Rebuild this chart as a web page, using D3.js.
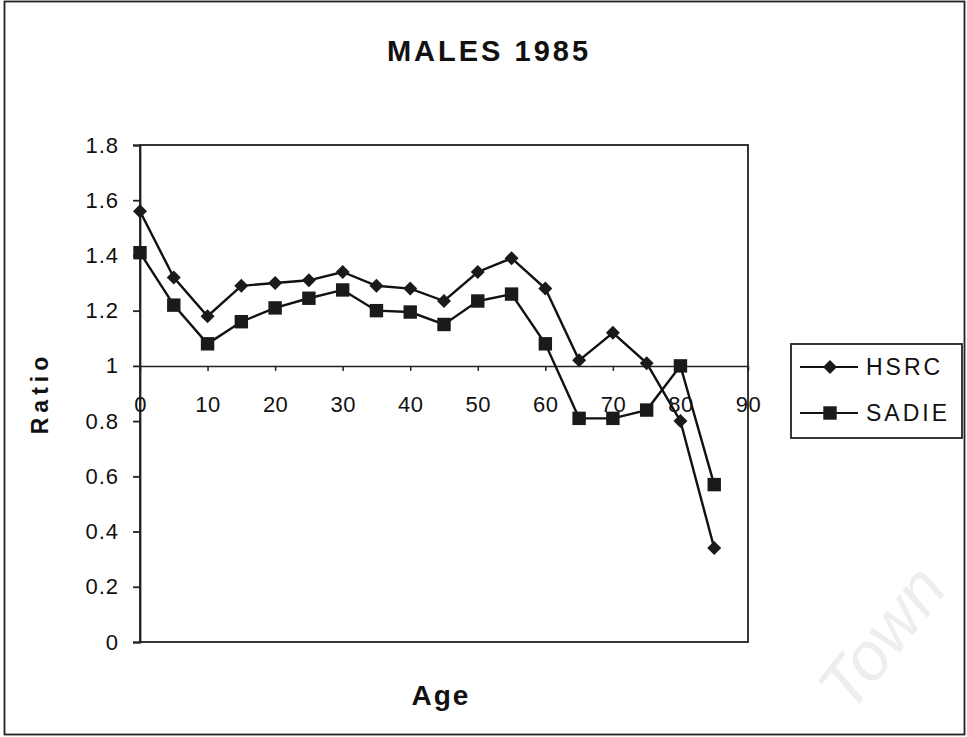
<html>
<head>
<style>
  body { margin: 0; background: #fff; }
  text { font-family: "Liberation Sans", Arial, sans-serif; fill: #111; }
  .line { fill: none; stroke: #111; stroke-width: 2.4; }
  .frame { fill: none; stroke: #222; stroke-width: 1.8; }
</style>
</head>
<body>
<svg id="container" width="967" height="737"></svg>
<script src="https://cdn.jsdelivr.net/npm/d3@7"></script>
<script>
// ages on the x axis
let ages = [0, 5, 10, 15, 20, 25, 30, 35, 40, 45, 50, 55, 60, 65, 70, 75, 80, 85]
// ratio series
let hsrc = [1.56, 1.32, 1.18, 1.29, 1.30, 1.31, 1.34, 1.29, 1.28, 1.235, 1.34, 1.39, 1.28, 1.02, 1.12, 1.01, 0.80, 0.34]
let sadie = [1.41, 1.22, 1.08, 1.16, 1.21, 1.245, 1.275, 1.20, 1.195, 1.15, 1.235, 1.26, 1.08, 0.81, 0.81, 0.84, 1.0, 0.57]
let yTicks = [0, 0.2, 0.4, 0.6, 0.8, 1, 1.2, 1.4, 1.6, 1.8]
let xTicks = [0, 10, 20, 30, 40, 50, 60, 70, 80, 90]
let seriesNames = ["HSRC", "SADIE"]

let svg = d3.select("#container")

// outer border of the scanned figure
svg.append("rect").attr("class", "frame")
    .attr("x", 4.5).attr("y", 1.5).attr("width", 960).attr("height", 733)

// faint watermark from the scan
svg.append("text")
    .attr("transform", "translate(900,652) rotate(-52)")
    .attr("text-anchor", "middle")
    .style("font-size", "68px").style("font-style", "italic")
    .style("fill", "#eeeeee")
    .text("Town")

let plotLeft = 140, plotRight = 748, plotTop = 145, plotBottom = 642

let xScale = d3.scaleLinear().domain([0, 90]).range([plotLeft, plotRight])
let yScale = d3.scaleLinear().domain([0, 1.8]).range([plotBottom, plotTop])

// plot area box
svg.append("rect").attr("class", "frame")
    .attr("x", plotLeft).attr("y", plotTop)
    .attr("width", plotRight - plotLeft).attr("height", plotBottom - plotTop)

// y axis
let yAxis = svg.append("g")
    .attr("transform", "translate(" + plotLeft + ",0)")
    .call(d3.axisLeft(yScale).tickValues(yTicks).tickSize(7).tickPadding(14)
        .tickFormat(d => String(+d.toFixed(1))))
yAxis.selectAll("text").style("font-size", "22px").style("letter-spacing", "1px")
yAxis.selectAll("line, path").attr("stroke", "#222").attr("stroke-width", 1.8)

// x axis crosses at ratio 1
let xAxis = svg.append("g")
    .attr("transform", "translate(0," + yScale(1) + ")")
    .call(d3.axisBottom(xScale).tickValues(xTicks).tickSize(5).tickPadding(26)
        .tickSizeOuter(0))
xAxis.selectAll("text").style("font-size", "22px").style("letter-spacing", "0.5px")
xAxis.selectAll("line, path").attr("stroke", "#222").attr("stroke-width", 1.5)

let valueLine = d3.line().x(d => xScale(d.age)).y(d => yScale(d.v))

let series = [hsrc, sadie].map((vals, i) => ({
  name: seriesNames[i],
  points: ages.map((a, j) => ({ age: a, v: vals[j] }))
}))

let diamond = d3.symbol().type(d3.symbolSquare).size(98)
let square = d3.symbol().type(d3.symbolSquare).size(180)

function marker(g, i, x, y) {
  if (i == 0) {
    g.append("path").attr("d", diamond())
        .attr("transform", "translate(" + x + "," + y + ") rotate(45)")
        .attr("fill", "#1a1a1a")
  } else {
    g.append("path").attr("d", square())
        .attr("transform", "translate(" + x + "," + y + ")")
        .attr("fill", "#1a1a1a")
  }
}

series.forEach((s, i) => {
  svg.append("path").datum(s.points).attr("class", "line").attr("d", valueLine)
  let g = svg.append("g")
  s.points.forEach(p => marker(g, i, xScale(p.age), yScale(p.v)))
})

// titles
svg.append("text").attr("x", 489).attr("y", 61).attr("text-anchor", "middle")
    .style("font-size", "29px").style("font-weight", "bold").style("letter-spacing", "3px")
    .text("MALES 1985")

svg.append("text").attr("x", 441).attr("y", 705).attr("text-anchor", "middle")
    .style("font-size", "28px").style("font-weight", "bold").style("letter-spacing", "2px")
    .text("Age")

svg.append("text").attr("transform", "translate(48,393) rotate(-90)")
    .attr("text-anchor", "middle")
    .style("font-size", "23px").style("font-weight", "bold").style("letter-spacing", "5px")
    .text("Ratio")

// legend
let legend = svg.append("g")
legend.append("rect").attr("class", "frame")
    .attr("x", 791).attr("y", 344).attr("width", 171).attr("height", 94)
seriesNames.forEach((name, i) => {
  let ly = 367 + i * 46
  legend.append("line").attr("x1", 800).attr("x2", 858).attr("y1", ly).attr("y2", ly)
      .attr("stroke", "#111").attr("stroke-width", 2)
  marker(legend, i, 830, ly)
  legend.append("text").attr("x", 866).attr("y", ly + 8)
      .style("font-size", "23px").style("letter-spacing", "3px")
      .text(name)
})
</script>
</body>
</html>
